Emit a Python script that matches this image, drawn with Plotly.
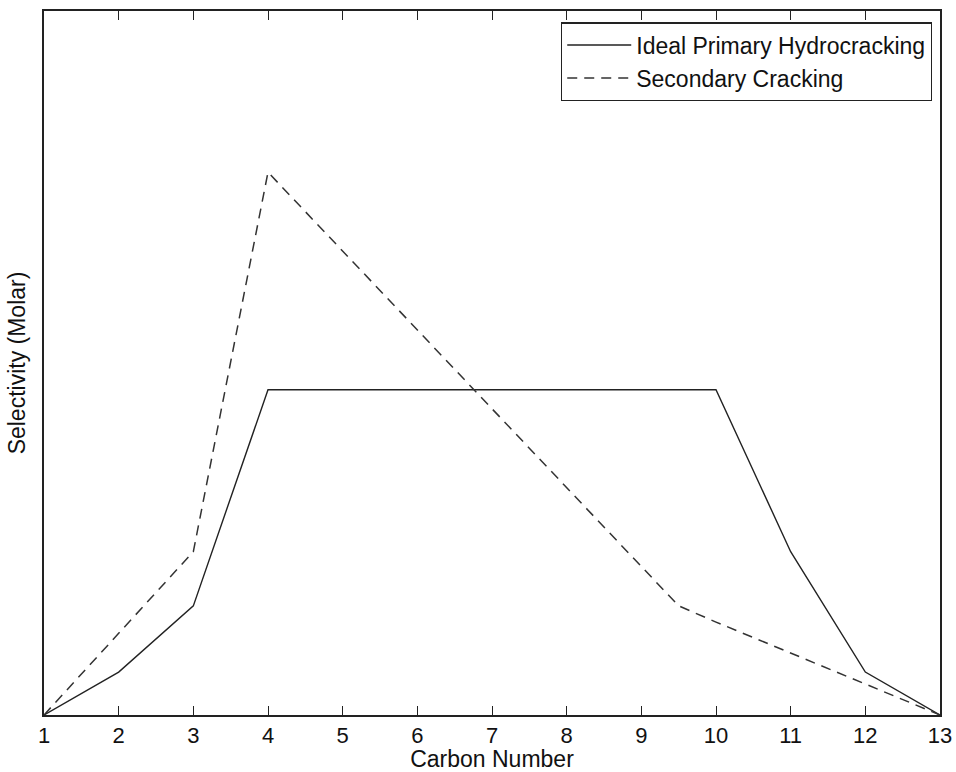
import plotly.graph_objects as go

x_primary = [1, 2, 3, 4, 10, 11, 12, 13]
y_primary = [0.0, 0.061, 0.155, 0.462, 0.462, 0.232, 0.061, 0.0]

x_secondary = [1, 2, 3, 4, 5, 6, 7, 8, 9, 9.5, 10, 11, 12, 13]
y_secondary = [0.0, 0.116, 0.232, 0.771, 0.659, 0.547, 0.435, 0.322, 0.210, 0.155, 0.132, 0.088, 0.044, 0.0]

x_ticks = list(range(1, 14))

fig = go.Figure()
fig.add_trace(go.Scatter(x=x_primary, y=y_primary, mode="lines",
                         name="Ideal Primary Hydrocracking",
                         line=dict(color="#222222", width=1.4)))
fig.add_trace(go.Scatter(x=x_secondary, y=y_secondary, mode="lines",
                         name="Secondary Cracking",
                         line=dict(color="#333333", width=1.5, dash="10px,7px")))

fig.update_layout(
    width=956, height=772,
    margin=dict(l=44, r=16, t=11, b=57, autoexpand=False),
    plot_bgcolor="white", paper_bgcolor="white",
    font=dict(family="Liberation Sans, Arial, sans-serif", size=22, color="#111111"),
    showlegend=True,
    legend=dict(x=0.991, y=0.984, xanchor="right", yanchor="top",
                bordercolor="#222222", borderwidth=1.3, bgcolor="white",
                font=dict(size=23), tracegroupgap=0, itemwidth=64),
)
fig.update_xaxes(range=[1, 13], tickvals=x_ticks, ticktext=[str(t) for t in x_ticks],
                 ticks="inside", ticklen=9, tickcolor="#222222", tickwidth=1.3,
                 showline=True, linecolor="#222222", linewidth=1.5, mirror="ticks",
                 showgrid=False, zeroline=False, automargin=False,
                 title=dict(text="Carbon Number", standoff=0, font=dict(size=23)),
                 tickfont=dict(size=22))
fig.update_yaxes(range=[0, 1], showticklabels=False, ticks="",
                 showline=True, linecolor="#222222", linewidth=1.5, mirror=True,
                 showgrid=False, zeroline=False, automargin=False,
                 title=dict(text="Selectivity (Molar)", standoff=10, font=dict(size=23)))

fig.write_html("out.html")
